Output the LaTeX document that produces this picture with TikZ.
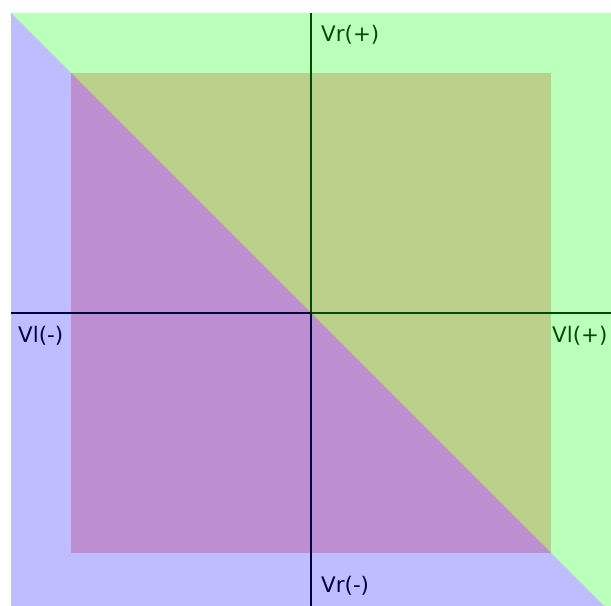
\documentclass[tikz,border=0pt]{standalone}
\usepackage{fontspec}
\setmainfont{DejaVu Sans}

\begin{document}
\begin{tikzpicture}[
    x=1bp, y=-1bp,
    font=\fontsize{21.5}{24}\selectfont,
    plusaxis/.style={draw=green!30!black, line width=2bp},
    minusaxis/.style={draw=blue!25!black, line width=2bp},
    pluslabel/.style={anchor=base west, inner sep=0pt, text=green!30!black},
    minuslabel/.style={anchor=base west, inner sep=0pt, text=blue!25!black}
]
    \useasboundingbox (0,0) rectangle (611,606);
    \clip (0,0) rectangle (611,606);

    % regions
    \fill[red, opacity=0.25] (71,73) rectangle (551,553);
    \fill[blue, opacity=0.26] (11,13) -- (611,613) -- (11,613) -- cycle;
    \fill[green, opacity=0.27] (11,13) -- (611,13) -- (611,613) -- cycle;

    % axes
    \coordinate (o) at (311,313);
    \coordinate (vrp) at (311,13);
    \coordinate (vrm) at (311,606);
    \coordinate (vlm) at (11,313);
    \coordinate (vlp) at (611,313);
    \draw[plusaxis] (o) -- (vrp);
    \draw[plusaxis] (o) -- (vlp);
    \draw[minusaxis] (o) -- (vrm);
    \draw[minusaxis] (o) -- (vlm);

    \node[pluslabel] (lvrp) at (321,42) {Vr(+)};
    \node[pluslabel] (lvlp) at (552,342) {Vl(+)};
    \node[minuslabel] (lvlm) at (18,342) {Vl(-)};
    \node[minuslabel] (lvrm) at (321,592) {Vr(-)};
\end{tikzpicture}
\end{document}
